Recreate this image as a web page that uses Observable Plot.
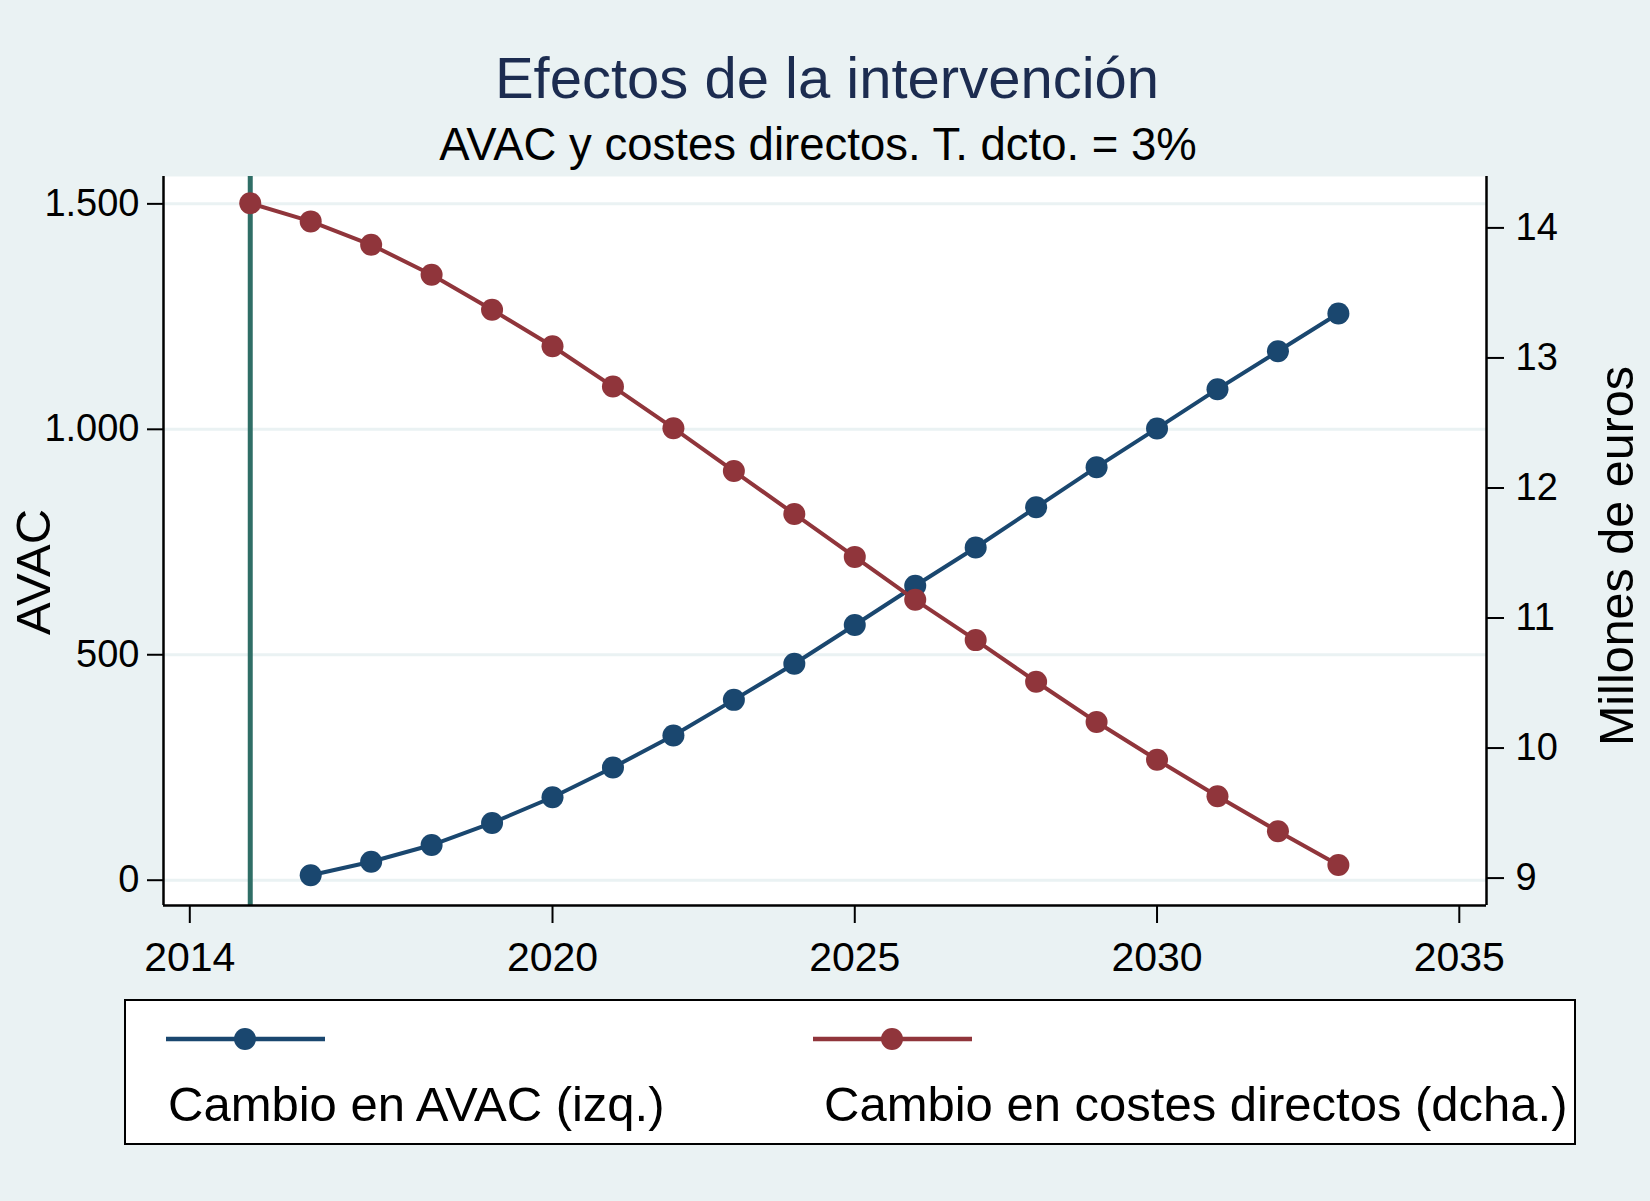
<!DOCTYPE html>
<html>
<head>
<meta charset="utf-8">
<script src="https://cdn.jsdelivr.net/npm/d3@7"></script>
<script src="https://cdn.jsdelivr.net/npm/@observablehq/plot@0.6"></script>
<style>
  body { margin: 0; background: #EAF2F3; font-family: "Liberation Sans", Arial, Helvetica, sans-serif; }
  #page { position: relative; width: 1650px; height: 1201px; overflow: hidden; background: #EAF2F3; }
  .t { position: absolute; white-space: nowrap; line-height: 1; }
  #chart { position: absolute; left: 0; top: 166px; }
  #legend { position: absolute; left: 124px; top: 999px; width: 1452px; height: 146px; box-sizing: border-box;
            background: white; border: 2px solid black; }
</style>
</head>
<body>
<div id="page">
  <div class="t" style="left:0;width:1654px;text-align:center;top:49px;font-size:58px;color:#1C2C50">Efectos de la intervención</div>
  <div class="t" style="left:0;width:1636px;text-align:center;top:122px;font-size:45.5px;color:black">AVAC y costes directos. T. dcto. = 3%</div>
  <div id="chart"></div>
  <div class="t" style="left:33px;top:572px;font-size:49px;transform:translate(-50%,-50%) rotate(-90deg)">AVAC</div>
  <div class="t" style="left:1616px;top:556px;font-size:48.5px;transform:translate(-50%,-50%) rotate(-90deg)">Millones de euros</div>
  <div id="legend"></div>
</div>
<script>
// años y series
const avacYears = [2016, 2017, 2018, 2019, 2020, 2021, 2022, 2023, 2024, 2025, 2026, 2027, 2028, 2029, 2030, 2031, 2032, 2033]
const avac = [11, 41, 78, 127, 184, 250, 321, 400, 480, 566, 653, 738, 827, 916, 1002, 1089, 1173, 1257]

const costYears = [2015, 2016, 2017, 2018, 2019, 2020, 2021, 2022, 2023, 2024, 2025, 2026, 2027, 2028, 2029, 2030, 2031, 2032, 2033]
const costes = [14.19, 14.05, 13.87, 13.64, 13.37, 13.09, 12.78, 12.46, 12.13, 11.80, 11.47, 11.14, 10.83, 10.51, 10.20, 9.91, 9.63, 9.36, 9.10]

const interventionYear = 2015

const xTicks = [2014, 2020, 2025, 2030, 2035]
const leftTicks = [0, 500, 1000, 1500]
const leftTickLabels = ["0", "500", "1.000", "1.500"]
const rightTicks = [9, 10, 11, 12, 13, 14]
const rightTickLabels = ["9", "10", "11", "12", "13", "14"]

const seriesNames = ["Cambio en AVAC (izq.)", "Cambio en costes directos (dcha.)"]
const seriesColors = ["#1A476F", "#90353B"]

// eje derecho (millones) llevado a unidades del eje izquierdo
const toLeft = r => 4.7 + (r - 9) * 288.4

const xDomain = [2013.565, 2035.45]
const yDomain = [-56.1, 1560.7]

const avacRows = avacYears.map((year, i) => ({year, value: avac[i]}))
const costRows = costYears.map((year, i) => ({year, value: costes[i]}))

const leftLabel = new Map(leftTicks.map((d, i) => [d, leftTickLabels[i]]))
const rightLabel = new Map(rightTicks.map((d, i) => [toLeft(d), rightTickLabels[i]]))

let chart = Plot.plot({
  width: 1650,
  height: 830,
  marginLeft: 163,
  marginRight: 164,
  marginTop: 10,
  marginBottom: 91,
  x: {type: "linear", domain: xDomain},
  y: {domain: yDomain},
  style: {
    background: "transparent",
    fontFamily: "'Liberation Sans', Arial, Helvetica, sans-serif",
    fontSize: "38px",
    color: "black",
    overflow: "visible",
  },
  marks: [
    Plot.frame({fill: "white", stroke: "none"}),
    Plot.gridY(leftTicks, {stroke: "#EAF2F3", strokeOpacity: 1, strokeWidth: 3}),
    Plot.ruleX([interventionYear], {stroke: "#2F6E66", strokeWidth: 5}),
    Plot.line(avacRows, {x: "year", y: "value", stroke: seriesColors[0], strokeWidth: 4}),
    Plot.dot(avacRows, {x: "year", y: "value", r: 11, fill: seriesColors[0]}),
    Plot.line(costRows, {x: "year", y: d => toLeft(d.value), stroke: seriesColors[1], strokeWidth: 4}),
    Plot.dot(costRows, {x: "year", y: d => toLeft(d.value), r: 11, fill: seriesColors[1]}),
    Plot.ruleX(xDomain, {stroke: "black", strokeWidth: 2.5}),
    Plot.ruleY([yDomain[0]], {stroke: "black", strokeWidth: 2.5}),
    Plot.axisX(xTicks, {
      tickSize: 18, tickPadding: 18, strokeWidth: 2, fontSize: 41,
      tickFormat: d => String(d), label: null,
    }),
    Plot.axisY(leftTicks, {
      anchor: "left", tickSize: 16, tickPadding: 8, strokeWidth: 2,
      tickFormat: d => leftLabel.get(d), label: null,
    }),
    Plot.axisY(rightTicks.map(toLeft), {
      anchor: "right", tickSize: 17, tickPadding: 12, strokeWidth: 2,
      tickFormat: d => rightLabel.get(d), label: null,
    }),
  ],
})
d3.select('#chart').append(() => chart)

// leyenda
const legendX = [166, 813]
const labelX = [168, 824]
const page = d3.select('#page')
seriesNames.forEach((name, i) => {
  const svg = page.append('svg')
    .style('position', 'absolute')
    .style('left', legendX[i] + 'px')
    .style('top', '1026px')
    .attr('width', 160)
    .attr('height', 26)
  svg.append('line')
    .attr('x1', 0).attr('x2', 159).attr('y1', 13).attr('y2', 13)
    .attr('stroke', seriesColors[i]).attr('stroke-width', 4.5)
  svg.append('circle')
    .attr('cx', 79).attr('cy', 13).attr('r', 11)
    .attr('fill', seriesColors[i])
  page.append('div')
    .attr('class', 't')
    .style('left', labelX[i] + 'px')
    .style('top', '1080px')
    .style('font-size', '49px')
    .text(name)
})
</script>
</body>
</html>
